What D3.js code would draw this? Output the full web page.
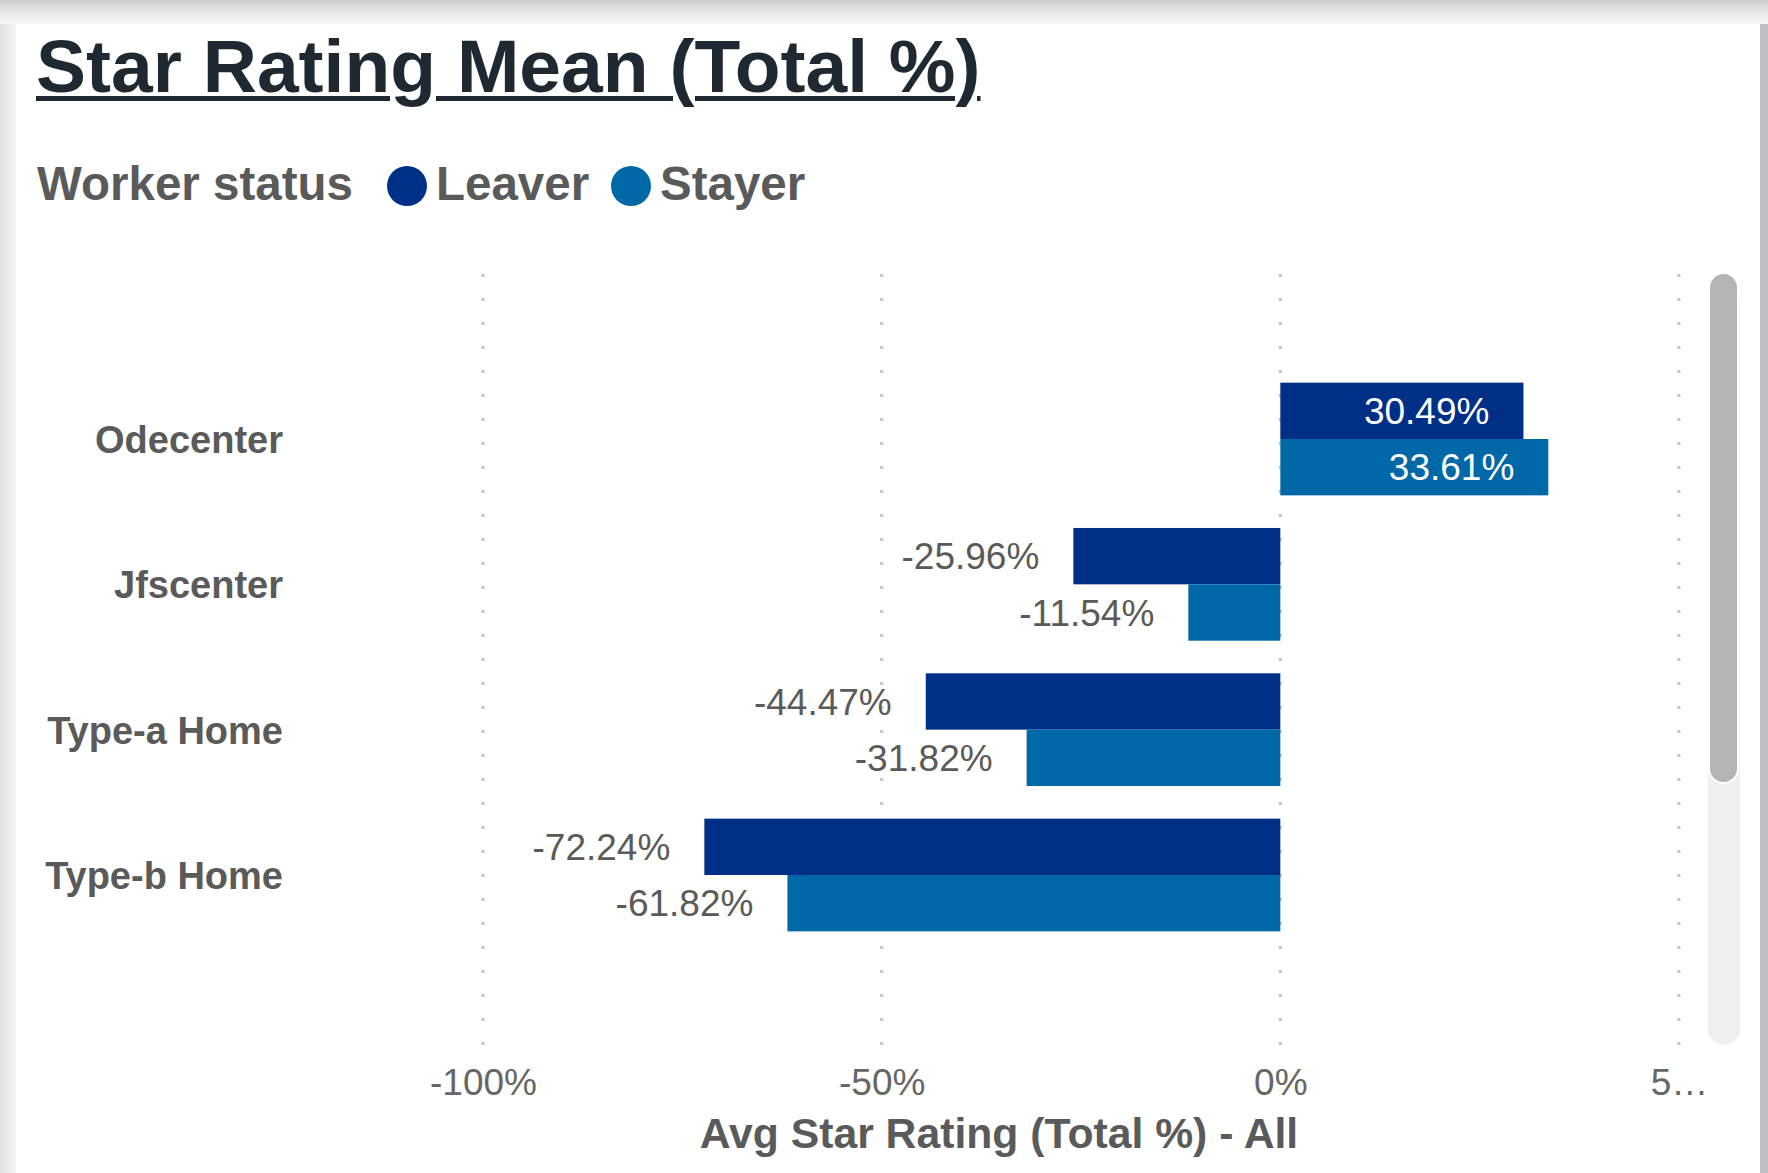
<!DOCTYPE html>
<html>
<head>
<meta charset="utf-8">
<script src="https://cdn.jsdelivr.net/npm/d3@7"></script>
<style>
  html, body { margin: 0; padding: 0; background: #ffffff; }
  body { width: 1768px; height: 1173px; position: relative; overflow: hidden; font-family: "Liberation Sans", Arial, sans-serif; }
  svg { position: absolute; left: 0; top: 0; }
  .title {
    position: absolute; left: 36px; top: 29px;
    font-size: 75px; line-height: 75px; font-weight: bold; color: #1f2932;
    white-space: nowrap;
    text-decoration: underline; text-decoration-thickness: 5px;
    text-underline-offset: 4px; text-decoration-skip-ink: auto;
  }
</style>
</head>
<body>
<script>
// Chart data
const categories = ["Odecenter", "Jfscenter", "Type-a Home", "Type-b Home"];
const series = ["Leaver", "Stayer"];
const leaverValues = [0.3049, -0.2596, -0.4447, -0.7224];
const stayerValues = [0.3361, -0.1154, -0.3182, -0.6182];
const xTickValues = [-1, -0.5, 0, 0.5];
const xTickLabels = ["-100%", "-50%", "0%", "5…"];
const seriesColors = ["#002f87", "#0068a6"];

const titleText = "Star Rating Mean (Total %)";
const legendTitle = "Worker status";
const xAxisTitle = "Avg Star Rating (Total %) - All";

const W = 1768, H = 1173;
const grey = "#5a5a5a";

const svg = d3.select("body").append("svg")
  .attr("width", W).attr("height", H);

// Card frame: shaded top band, left and right edges
const defs = svg.append("defs");
const gTop = defs.append("linearGradient").attr("id", "gTop")
  .attr("x1", 0).attr("y1", 0).attr("x2", 0).attr("y2", 1);
gTop.append("stop").attr("offset", 0).attr("stop-color", "#cdcdcd");
gTop.append("stop").attr("offset", 0.6).attr("stop-color", "#ececec");
gTop.append("stop").attr("offset", 1).attr("stop-color", "#f3f3f3");
const gLeft = defs.append("linearGradient").attr("id", "gLeft")
  .attr("x1", 0).attr("y1", 0).attr("x2", 1).attr("y2", 0);
gLeft.append("stop").attr("offset", 0).attr("stop-color", "#e0e1e3");
gLeft.append("stop").attr("offset", 1).attr("stop-color", "#f4f4f5");

svg.append("rect").attr("x", 0).attr("y", 0).attr("width", W).attr("height", H).attr("fill", "#ffffff");
svg.append("rect").attr("x", 0).attr("y", 0).attr("width", W).attr("height", 24).attr("fill", "url(#gTop)");
svg.append("rect").attr("x", 0).attr("y", 24).attr("width", 16).attr("height", H - 24).attr("fill", "url(#gLeft)");
svg.append("rect").attr("x", 1760).attr("y", 24).attr("width", 8).attr("height", H - 24).attr("fill", "#bcc0c4");

// Title
d3.select("body").append("div").attr("class", "title").text(titleText);

// Legend
const legend = svg.append("g").attr("font-family", "Liberation Sans, Arial, sans-serif")
  .attr("font-weight", "bold").attr("font-size", 47.5).attr("fill", grey);
legend.append("text").attr("x", 37).attr("y", 200).text(legendTitle);
const legendItems = [
  { name: series[0], cx: 407, tx: 436 },
  { name: series[1], cx: 631, tx: 660 }
];
legendItems.forEach((d, i) => {
  legend.append("circle").attr("cx", d.cx).attr("cy", 186).attr("r", 20).attr("fill", seriesColors[i]);
  legend.append("text").attr("x", d.tx).attr("y", 200).text(d.name);
});

// Scales
const plotTop = 274, plotBottom = 1048;
const x = d3.scaleLinear().domain([-1, 0.5]).range([483, 1679]);
const y = d3.scaleBand().domain(categories).range([269, 1045])
  .paddingInner(0.2245).paddingOuter(0.782);
const ySub = d3.scaleBand().domain(series).range([0, y.bandwidth()]);
const color = d3.scaleOrdinal().domain(series).range(seriesColors);

// Dotted vertical gridlines
svg.append("g").selectAll("line").data(xTickValues).join("line")
  .attr("x1", d => x(d)).attr("x2", d => x(d))
  .attr("y1", plotTop).attr("y2", plotBottom)
  .attr("stroke", "#c4c4c4").attr("stroke-width", 3)
  .attr("stroke-dasharray", "3,21");

// Bars
const rows = categories.map((c, i) => ({
  category: c,
  values: [
    { series: series[0], value: leaverValues[i] },
    { series: series[1], value: stayerValues[i] }
  ]
}));

const groups = svg.append("g").selectAll("g").data(rows).join("g")
  .attr("transform", d => `translate(0,${y(d.category)})`);

groups.selectAll("rect").data(d => d.values).join("rect")
  .attr("x", d => x(Math.min(0, d.value)))
  .attr("width", d => Math.abs(x(d.value) - x(0)))
  .attr("y", d => ySub(d.series))
  .attr("height", ySub.bandwidth())
  .attr("fill", d => color(d.series));

// Data labels: inside end for positive bars, outside end for negative bars
const locale = d3.formatLocale({ decimal: ".", thousands: ",", grouping: [3], currency: ["", ""], minus: "-" });
const fmt = locale.format(".2%");
groups.selectAll("text").data(d => d.values).join("text")
  .attr("x", d => x(d.value) - 34)
  .attr("y", d => ySub(d.series) + ySub.bandwidth() / 2)
  .attr("dy", "0.36em")
  .attr("text-anchor", "end")
  .attr("font-family", "Liberation Sans, Arial, sans-serif")
  .attr("font-size", 37)
  .attr("fill", d => d.value >= 0 ? "#ffffff" : grey)
  .text(d => fmt(d.value));

// Category labels
svg.append("g").selectAll("text").data(categories).join("text")
  .attr("x", 283)
  .attr("y", d => y(d) + y.bandwidth() / 2 + 14)
  .attr("text-anchor", "end")
  .attr("font-family", "Liberation Sans, Arial, sans-serif")
  .attr("font-weight", "bold").attr("font-size", 38)
  .attr("fill", grey)
  .text(d => d);

// X axis tick labels
const xAxis = d3.axisBottom(x)
  .tickValues(xTickValues)
  .tickFormat((d, i) => xTickLabels[i])
  .tickSize(0).tickPadding(0);
const axisG = svg.append("g").attr("transform", "translate(0,1069)").call(xAxis);
axisG.select(".domain").remove();
axisG.selectAll("text")
  .attr("font-family", "Liberation Sans, Arial, sans-serif")
  .attr("font-size", 37).attr("fill", "#666666")
  .attr("dy", "0.71em");

// X axis title
svg.append("text")
  .attr("x", 999).attr("y", 1148)
  .attr("text-anchor", "middle")
  .attr("font-family", "Liberation Sans, Arial, sans-serif")
  .attr("font-weight", "bold").attr("font-size", 42.7)
  .attr("fill", grey)
  .text(xAxisTitle);

// Vertical scrollbar
svg.append("rect").attr("x", 1708).attr("y", 290).attr("width", 32).attr("height", 755)
  .attr("rx", 16).attr("fill", "#efefef");
svg.append("rect").attr("x", 1709).attr("y", 273).attr("width", 29).attr("height", 510)
  .attr("rx", 14.5).attr("fill", "#b4b4b4").attr("stroke", "#ffffff").attr("stroke-width", 2);
</script>
</body>
</html>
